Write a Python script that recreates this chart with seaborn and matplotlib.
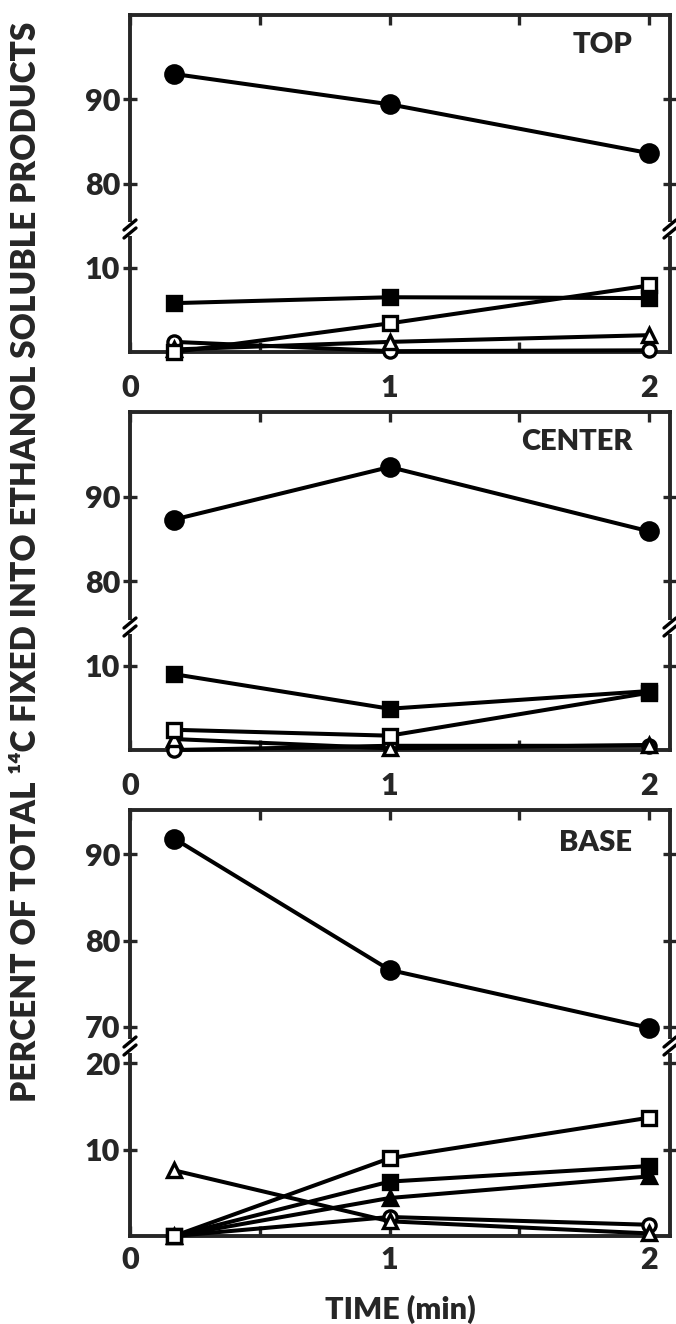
import matplotlib.pyplot as plt
import seaborn as sns
from matplotlib.lines import Line2D
from matplotlib.patches import Rectangle

# time points (min)
time_min = [0.17, 1, 2]
panel_names = ["TOP", "CENTER", "BASE"]

# TOP
top_filled_circle = [93.0, 89.4, 83.6]
top_filled_square = [5.8, 6.5, 6.4]
top_open_square = [0.0, 3.4, 7.9]
top_open_triangle = [0.3, 1.2, 2.0]
top_open_circle = [1.2, 0.1, 0.2]

# CENTER
center_filled_circle = [87.3, 93.5, 85.9]
center_filled_square = [9.0, 4.9, 7.0]
center_open_square = [2.4, 1.7, 6.8]
center_open_triangle = [1.3, 0.2, 0.6]
center_open_circle = [0.0, 0.5, 0.5]

# BASE
base_filled_circle = [91.8, 76.6, 69.9]
base_open_square = [0.0, 9.0, 13.7]
base_filled_square = [0.0, 6.3, 8.1]
base_filled_triangle = [0.0, 4.4, 6.9]
base_open_triangle = [7.6, 1.7, 0.3]
base_open_circle = [0.0, 2.2, 1.3]

upper_ticks = [[80, 90], [80, 90], [70, 80, 90]]
lower_ticks = [[10], [10], [10, 20]]

sns.set_style("ticks")
plt.rcParams["font.family"] = ["Lato", "DejaVu Sans"]
plt.rcParams["font.weight"] = "heavy"

styles = {
    "filled_circle": dict(marker="o", markersize=12.5, markerfacecolor="black"),
    "filled_square": dict(marker="s", markersize=10.5, markerfacecolor="black"),
    "open_square": dict(marker="s", markersize=9.5, markerfacecolor="white"),
    "filled_triangle": dict(marker="^", markersize=10, markerfacecolor="black"),
    "open_triangle": dict(marker="^", markersize=9.5, markerfacecolor="white"),
    "open_circle": dict(marker="o", markersize=9.5, markerfacecolor="white"),
}

panels = [
    dict(upper=[(top_filled_circle, "filled_circle")],
         lower=[(top_open_circle, "open_circle"), (top_open_triangle, "open_triangle"),
                (top_open_square, "open_square"), (top_filled_square, "filled_square")],
         ylim_up=(74.6, 100), ylim_lo=(0, 14.6), px=(15, 229, 352), xpad=16),
    dict(upper=[(center_filled_circle, "filled_circle")],
         lower=[(center_open_circle, "open_circle"), (center_open_triangle, "open_triangle"),
                (center_open_square, "open_square"), (center_filled_square, "filled_square")],
         ylim_up=(74.6, 100), ylim_lo=(0, 14.6), px=(412, 627, 750), xpad=16),
    dict(upper=[(base_filled_circle, "filled_circle")],
         lower=[(base_open_circle, "open_circle"), (base_open_triangle, "open_triangle"),
                (base_filled_triangle, "filled_triangle"), (base_filled_square, "filled_square"),
                (base_open_square, "open_square")],
         ylim_up=(67.8, 95.1), ylim_lo=(0, 22), px=(810, 1046, 1236), xpad=7),
]

W, H = 676, 1324
left_px, right_px = 130, 670
lw = 2.9

fig = plt.figure(figsize=(W / 100, H / 100), dpi=100)


def fig_xy(x, y):
    return x / W, 1 - y / H


def box(y_top, y_bot):
    return [left_px / W, 1 - y_bot / H, (right_px - left_px) / W, (y_bot - y_top) / H]


def draw_series(ax, values, key, clip):
    sns.lineplot(x=time_min, y=values, ax=ax, color="black", linewidth=lw,
                 markeredgecolor="black", markeredgewidth=2.4, clip_on=clip,
                 zorder=3, **styles[key])


for i, (name, p) in enumerate(zip(panel_names, panels)):
    y_top, y_split, y_bot = p["px"]
    ax_up = fig.add_axes(box(y_top, y_split))
    ax_lo = fig.add_axes(box(y_split, y_bot))

    for vals, key in p["upper"]:
        draw_series(ax_up, vals, key, True)
    for vals, key in p["lower"]:
        draw_series(ax_lo, vals, key, False)

    for ax in (ax_up, ax_lo):
        ax.set_xlim(0, 2.08)
        ax.set_xticks([0, 1, 2])
        ax.set_xticks([0.5, 1.5], minor=True)
        for s in ax.spines.values():
            s.set_linewidth(2.8)
        ax.tick_params(axis="y", direction="inout", left=True, right=True,
                       length=10, width=2.4, pad=2, labelsize=22)
        ax.set_xlabel("")
        ax.set_ylabel("")

    ax_up.set_ylim(*p["ylim_up"])
    ax_up.set_yticks(upper_ticks[i])
    ax_lo.set_ylim(*p["ylim_lo"])
    ax_lo.set_yticks(lower_ticks[i])

    ax_up.spines["bottom"].set_visible(False)
    ax_lo.spines["top"].set_visible(False)
    ax_up.tick_params(axis="x", which="both", direction="in", top=True, bottom=False,
                      labelbottom=False, length=7, width=2.4)
    ax_lo.tick_params(axis="x", which="both", direction="in", top=False, bottom=True,
                      labelbottom=True, length=7, width=2.4, pad=p["xpad"], labelsize=22)
    ax_lo.set_xticklabels(["0", "1", "2"])

    ax_up.text(0.93, 0.86, name, transform=ax_up.transAxes, ha="right", va="center",
               fontsize=21, fontweight="heavy")

    # broken-axis marks on both spines
    for xp in (left_px, right_px):
        x0, y0 = fig_xy(xp - 4, y_split + 7)
        fig.add_artist(Rectangle((x0, y0), 8 / W, 14 / H, transform=fig.transFigure,
                                 facecolor="white", edgecolor="none", zorder=10))
        for off in (-4, 4):
            xa, ya = fig_xy(xp - 6, y_split + off + 5)
            xb, yb = fig_xy(xp + 6, y_split + off - 5)
            fig.add_artist(Line2D([xa, xb], [ya, yb], transform=fig.transFigure,
                                  color="black", linewidth=2.4, zorder=11))

fig.text(26 / W, 1 - 562 / H, "PERCENT OF TOTAL \u00b9\u2074C FIXED INTO ETHANOL SOLUBLE PRODUCTS",
         rotation=90, ha="center", va="center", fontsize=24, fontweight="heavy")
fig.text(400 / W, 1 - 1309 / H, "TIME (min)", ha="center", va="center",
         fontsize=22, fontweight="heavy")

fig.savefig("out.png", dpi=100)
